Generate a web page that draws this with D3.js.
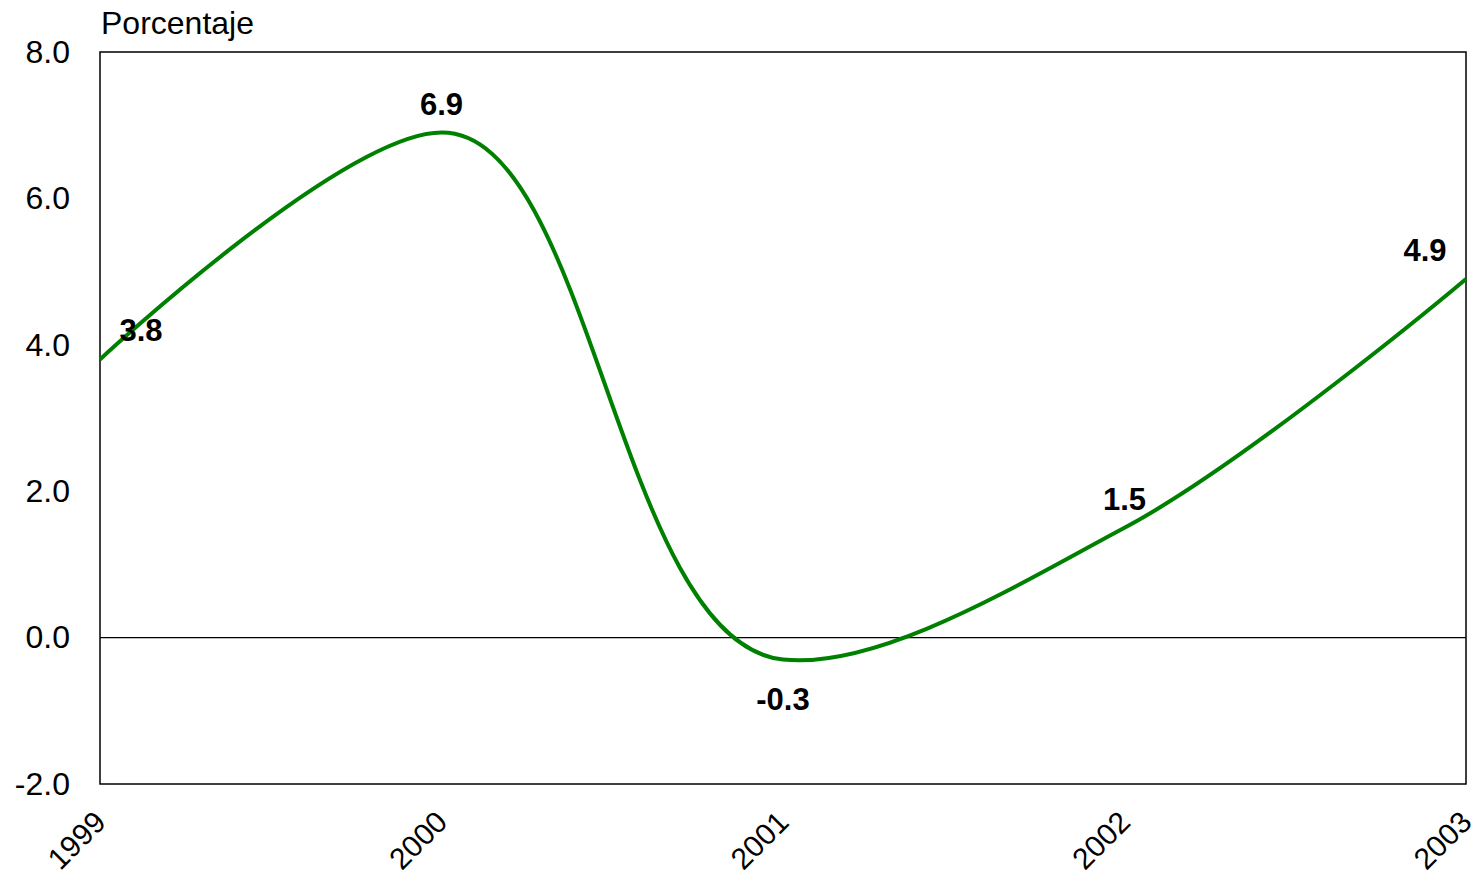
<!DOCTYPE html>
<html>
<head>
<meta charset="utf-8">
<script src="https://cdn.jsdelivr.net/npm/d3@7"></script>
<style>
  body { margin: 0; background: #fff; }
  text { font-family: "Liberation Sans", Arial, sans-serif; }
</style>
</head>
<body>
<div id="chart"></div>
<script>
var years = ["1999", "2000", "2001", "2002", "2003"];
var values = [3.8, 6.9, -0.3, 1.5, 4.9];
var yTicks = [-2, 0, 2, 4, 6, 8];
var yTitle = "Porcentaje";

var width = 1482, height = 879;
var margin = { left: 100, right: 16, top: 52, bottom: 95 };
var w = width - margin.left - margin.right;
var h = height - margin.top - margin.bottom;

// hyphen instead of unicode minus, like the original
var fmt = function (d) { return d3.format(".1f")(d).replace("\u2212", "-"); };

var svg = d3.select("#chart").append("svg")
    .attr("width", width)
    .attr("height", height);

var g = svg.append("g").attr("transform", "translate(" + margin.left + "," + margin.top + ")");

var xScale = d3.scalePoint().domain(years).range([0, w]);
var yScale = d3.scaleLinear().domain([-2, 8]).range([h, 0]);

// frame
g.append("rect")
    .attr("x", 0).attr("y", 0)
    .attr("width", w).attr("height", h)
    .attr("fill", "none")
    .attr("stroke", "#000")
    .attr("stroke-width", 1.5);

// zero line
g.append("line")
    .attr("x1", 0).attr("x2", w)
    .attr("y1", yScale(0)).attr("y2", yScale(0))
    .attr("stroke", "#000")
    .attr("stroke-width", 1.2);

// y axis
var yAxis = d3.axisLeft(yScale).tickValues(yTicks).tickSize(0).tickPadding(30)
    .tickFormat(fmt);
var ya = g.append("g").call(yAxis);
ya.select(".domain").remove();
ya.selectAll("text").attr("font-size", 32).attr("fill", "#000")
    .attr("font-family", "Liberation Sans, Arial, sans-serif");

// x axis
var xAxis = d3.axisBottom(xScale).tickSize(0);
var xa = g.append("g").attr("transform", "translate(0," + h + ")").call(xAxis);
xa.select(".domain").remove();
xa.selectAll("text")
    .attr("font-size", 30)
    .attr("fill", "#000")
    .attr("font-family", "Liberation Sans, Arial, sans-serif")
    .attr("text-anchor", "end")
    .attr("dy", null)
    .attr("y", 0)
    .attr("transform", "translate(7,40) rotate(-45)");

// title
svg.append("text")
    .attr("x", 101)
    .attr("y", 34)
    .attr("font-size", 32)
    .attr("fill", "#000")
    .text(yTitle);

// line
var line = d3.line()
    .x(function (d, i) { return xScale(years[i]); })
    .y(function (d) { return yScale(d); })
    .curve(d3.curveCatmullRom.alpha(1));

g.append("path")
    .attr("d", line(values))
    .attr("fill", "none")
    .attr("stroke", "#008000")
    .attr("stroke-width", 4);

// data labels (offsets from point)
var labelOffset = [[41, -18], [0, -18], [0, 50], [0, -18], [-41, -18]];
g.selectAll(".lbl").data(values).enter().append("text")
    .attr("class", "lbl")
    .attr("x", function (d, i) { return xScale(years[i]) + labelOffset[i][0]; })
    .attr("y", function (d, i) { return yScale(d) + labelOffset[i][1]; })
    .attr("text-anchor", "middle")
    .attr("font-size", 31)
    .attr("font-weight", "bold")
    .attr("fill", "#000")
    .text(function (d) { return fmt(d); });
</script>
</body>
</html>
